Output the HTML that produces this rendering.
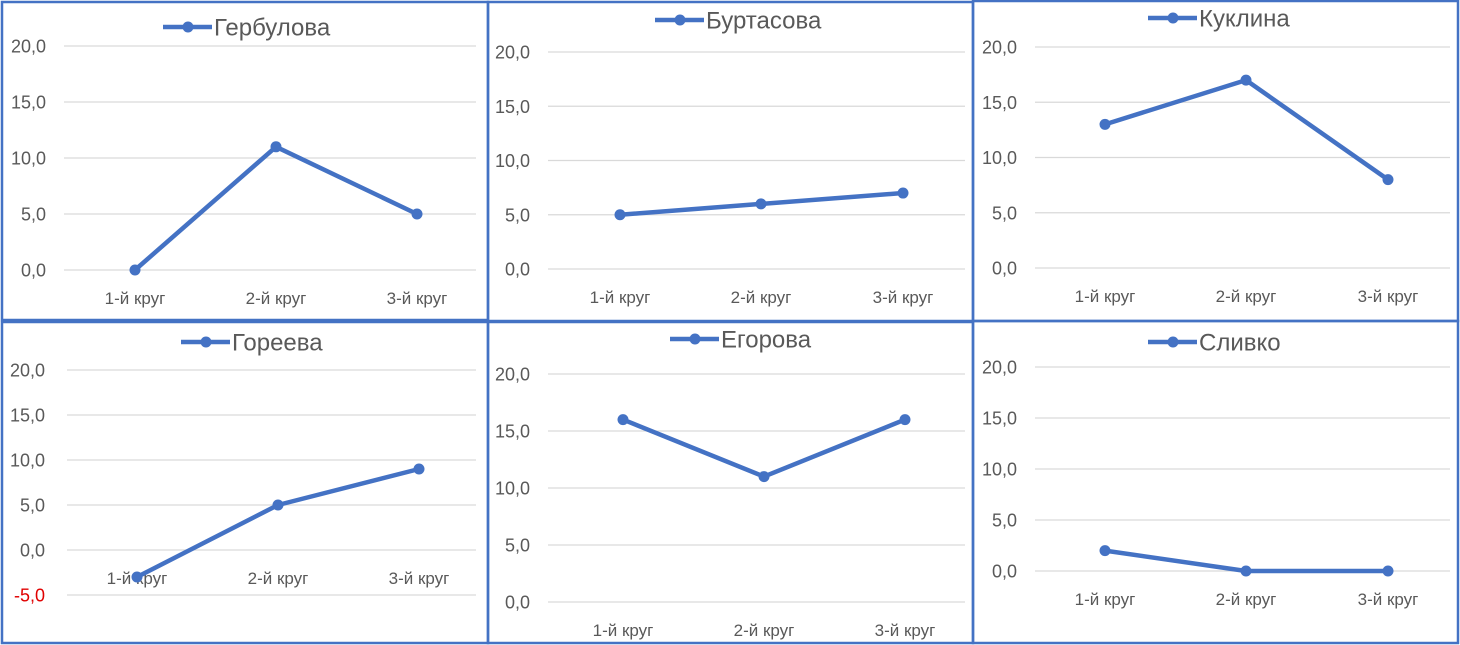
<!DOCTYPE html>
<html><head><meta charset="utf-8">
<style>
html,body{margin:0;padding:0;background:#fff;}
svg{display:block;font-family:"Liberation Sans",sans-serif;}
</style></head>
<body>
<svg id="chart" width="1460" height="645" viewBox="0 0 1460 645"></svg>
<script>
const categories = ["1-й круг","2-й круг","3-й круг"];
const names = ["Гербулова","Буртасова","Куклина","Гореева","Егорова","Сливко"];
const values0 = [0, 11, 5];
const values1 = [5, 6, 7];
const values2 = [13, 17, 8];
const values3 = [-3, 5, 9];
const values4 = [16, 11, 16];
const values5 = [2, 0, 0];
const ticksA = [0, 5, 10, 15, 20];
const ticksB = [-5, 0, 5, 10, 15, 20];

const seriesList = [values0, values1, values2, values3, values4, values5];
const tickList = [ticksA, ticksA, ticksA, ticksB, ticksA, ticksA];
const panels = [
  {bx:2,by:2,bw:486,bh:318, gx0:64,gx1:476, y20:46,y0:270, xs:[135,276,417], ly:298, ty:27, lx:163, labX:46},
  {bx:488,by:2,bw:485,bh:319, gx0:548,gx1:965, y20:52,y0:269, xs:[620,761,903], ly:297, ty:20, lx:655, labX:530},
  {bx:973,by:1,bw:485,bh:320, gx0:1035,gx1:1450, y20:47,y0:268, xs:[1105,1246,1388], ly:296, ty:18, lx:1148, labX:1017},
  {bx:2,by:322,bw:486,bh:321, gx0:67,gx1:476, y20:370,y0:550, xs:[137,278,419], ly:578, ty:342, lx:181, labX:45},
  {bx:488,by:322,bw:485,bh:321, gx0:548,gx1:965, y20:374,y0:602, xs:[623,764,905], ly:630, ty:339, lx:670, labX:530},
  {bx:973,by:321,bw:485,bh:322, gx0:1035,gx1:1450, y20:367,y0:571, xs:[1105,1246,1388], ly:599, ty:342, lx:1148, labX:1017}
];
const NS="http://www.w3.org/2000/svg";
const svg=document.getElementById('chart');
function mk(tag,attrs,parent){const e=document.createElementNS(NS,tag);for(const k in attrs)e.setAttribute(k,attrs[k]);(parent||svg).appendChild(e);return e;}
const C="#4472C4", G="#D9D9D9", T="#595959";
panels.forEach((p,i)=>{
  const g=mk('g',{});
  
  
  const yS=v=>p.y0+(p.y20-p.y0)*v/20;
  tickList[i].forEach(t=>{
    const y=yS(t);
    const gl=mk('line',{x1:p.gx0,x2:p.gx1,y1:y,y2:y,stroke:G,'stroke-width':1.3},g);
    
    
    const tx=mk('text',{x:p.labX,y:y+6.5,'text-anchor':'end','font-size':18,fill:t<0?'#E00000':T},g);
    tx.textContent=t.toFixed(1).replace('.',',');
    
    
  });
  categories.forEach((c,j)=>{
    const tx=mk('text',{x:p.xs[j],y:p.ly+6,'text-anchor':'middle','font-size':17,fill:T},g);
    tx.textContent=c;
    
    
  });
  const vals=seriesList[i];
  const pts=vals.map((v,j)=>p.xs[j]+','+yS(v)).join(' ');
  const pl=mk('polyline',{points:pts,fill:'none',stroke:C,'stroke-width':4.5,'stroke-linejoin':'round'},g);
  
  
  vals.forEach((v,j)=>{
    const c=mk('circle',{cx:p.xs[j],cy:yS(v),r:5.5,fill:C},g);
    
    
  });
  const lg=mk('g',{},g);
  
  
  mk('line',{x1:p.lx,x2:p.lx+49,y1:p.ty,y2:p.ty,stroke:C,'stroke-width':4.5},lg);
  mk('circle',{cx:p.lx+25,cy:p.ty,r:5.5,fill:C},lg);
  const tt=mk('text',{x:p.lx+51,y:p.ty+8.5,'font-size':24,fill:T},lg);
  tt.textContent=names[i];
  const b=mk('rect',{x:p.bx,y:p.by,width:p.bw,height:p.bh,fill:'none',stroke:C,'stroke-width':2.5},g);
  
  
});
</script>
</body></html>
